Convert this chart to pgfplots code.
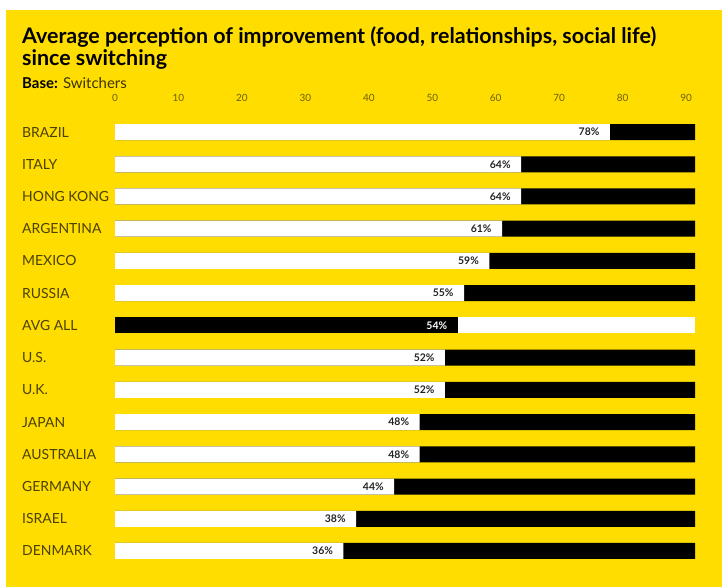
\documentclass[border=0pt]{standalone}
\usepackage{fontspec}
\setmainfont{Lato}
\usepackage{pgfplots}
\pgfplotsset{compat=1.18}
\definecolor{bgyellow}{RGB}{255,221,0}
\definecolor{catcol}{RGB}{75,65,0}
\definecolor{tickcol}{RGB}{110,95,0}
\definecolor{valcol}{RGB}{35,35,35}
\begin{document}
\begin{tikzpicture}
\path[use as bounding box] (0,0) rectangle (722bp,-587bp);
\fill[white] (0,0) rectangle (722bp,-587bp);
\fill[bgyellow] (6bp,-10bp) rectangle (722bp,-587bp);
\node[anchor=base west, inner sep=0pt, font=\fontsize{21.5}{23}\selectfont\bfseries] at (22bp,-43bp)
  {Average perception of improvement (food, relationships, social life)};
\node[anchor=base west, inner sep=0pt, font=\fontsize{21.5}{23}\selectfont\bfseries] at (22bp,-65bp)
  {since switching};
\node[anchor=base west, inner sep=0pt, font=\fontsize{15}{17}\selectfont, text=catcol!80!black] at (22bp,-88bp)
  {\textbf{\color{black}Base:} Switchers};
\begin{axis}[
  at={(115bp,-115.9bp)}, anchor=north west,
  scale only axis, width=580bp, height=451.2bp,
  xmin=0, xmax=91.4, ymin=-0.5, ymax=13.5, y dir=reverse,
  axis line style={draw=none}, major tick length=0pt,
  xtick={0,10,...,90}, xticklabel pos=upper,
  xticklabel style={font=\fontsize{10}{12}\selectfont, text=tickcol, yshift=11bp},
  /pgf/number format/assume math mode=true,
  ytick={0,...,13},
  yticklabels={BRAZIL,ITALY,HONG KONG,ARGENTINA,MEXICO,RUSSIA,AVG ALL,U.S.,U.K.,JAPAN,AUSTRALIA,GERMANY,ISRAEL,DENMARK},
  yticklabel style={anchor=west, inner xsep=0pt, xshift=-93bp, font=\fontsize{14}{16}\selectfont, text=catcol},
  xbar, bar width=16bp,
  nodes near coords style={anchor=east, xshift=-7bp, font=\fontsize{10.5}{12}\selectfont\bfseries},
]
% full-length remainder bars
\addplot[draw=none, fill=black, bar shift=0pt] coordinates {
  (91.4,0) (91.4,1) (91.4,2) (91.4,3) (91.4,4) (91.4,5)
  (91.4,7) (91.4,8) (91.4,9) (91.4,10) (91.4,11) (91.4,12) (91.4,13)};
\addplot[draw=none, fill=white, bar shift=0pt] coordinates {(91.4,6)};
% values
\addplot[draw=none, fill=white, bar shift=0pt,
  nodes near coords={\pgfmathprintnumber{\pgfplotspointmeta}\%},
  every node near coord/.append style={text=valcol}] coordinates {
  (78,0) (64,1) (64,2) (61,3) (59,4) (55,5)
  (52,7) (52,8) (48,9) (48,10) (44,11) (38,12) (36,13)};
\addplot[draw=none, fill=black, bar shift=0pt,
  nodes near coords={\pgfmathprintnumber{\pgfplotspointmeta}\%},
  every node near coord/.append style={text=white}] coordinates {(54,6)};
\end{axis}
\end{tikzpicture}
\end{document}
